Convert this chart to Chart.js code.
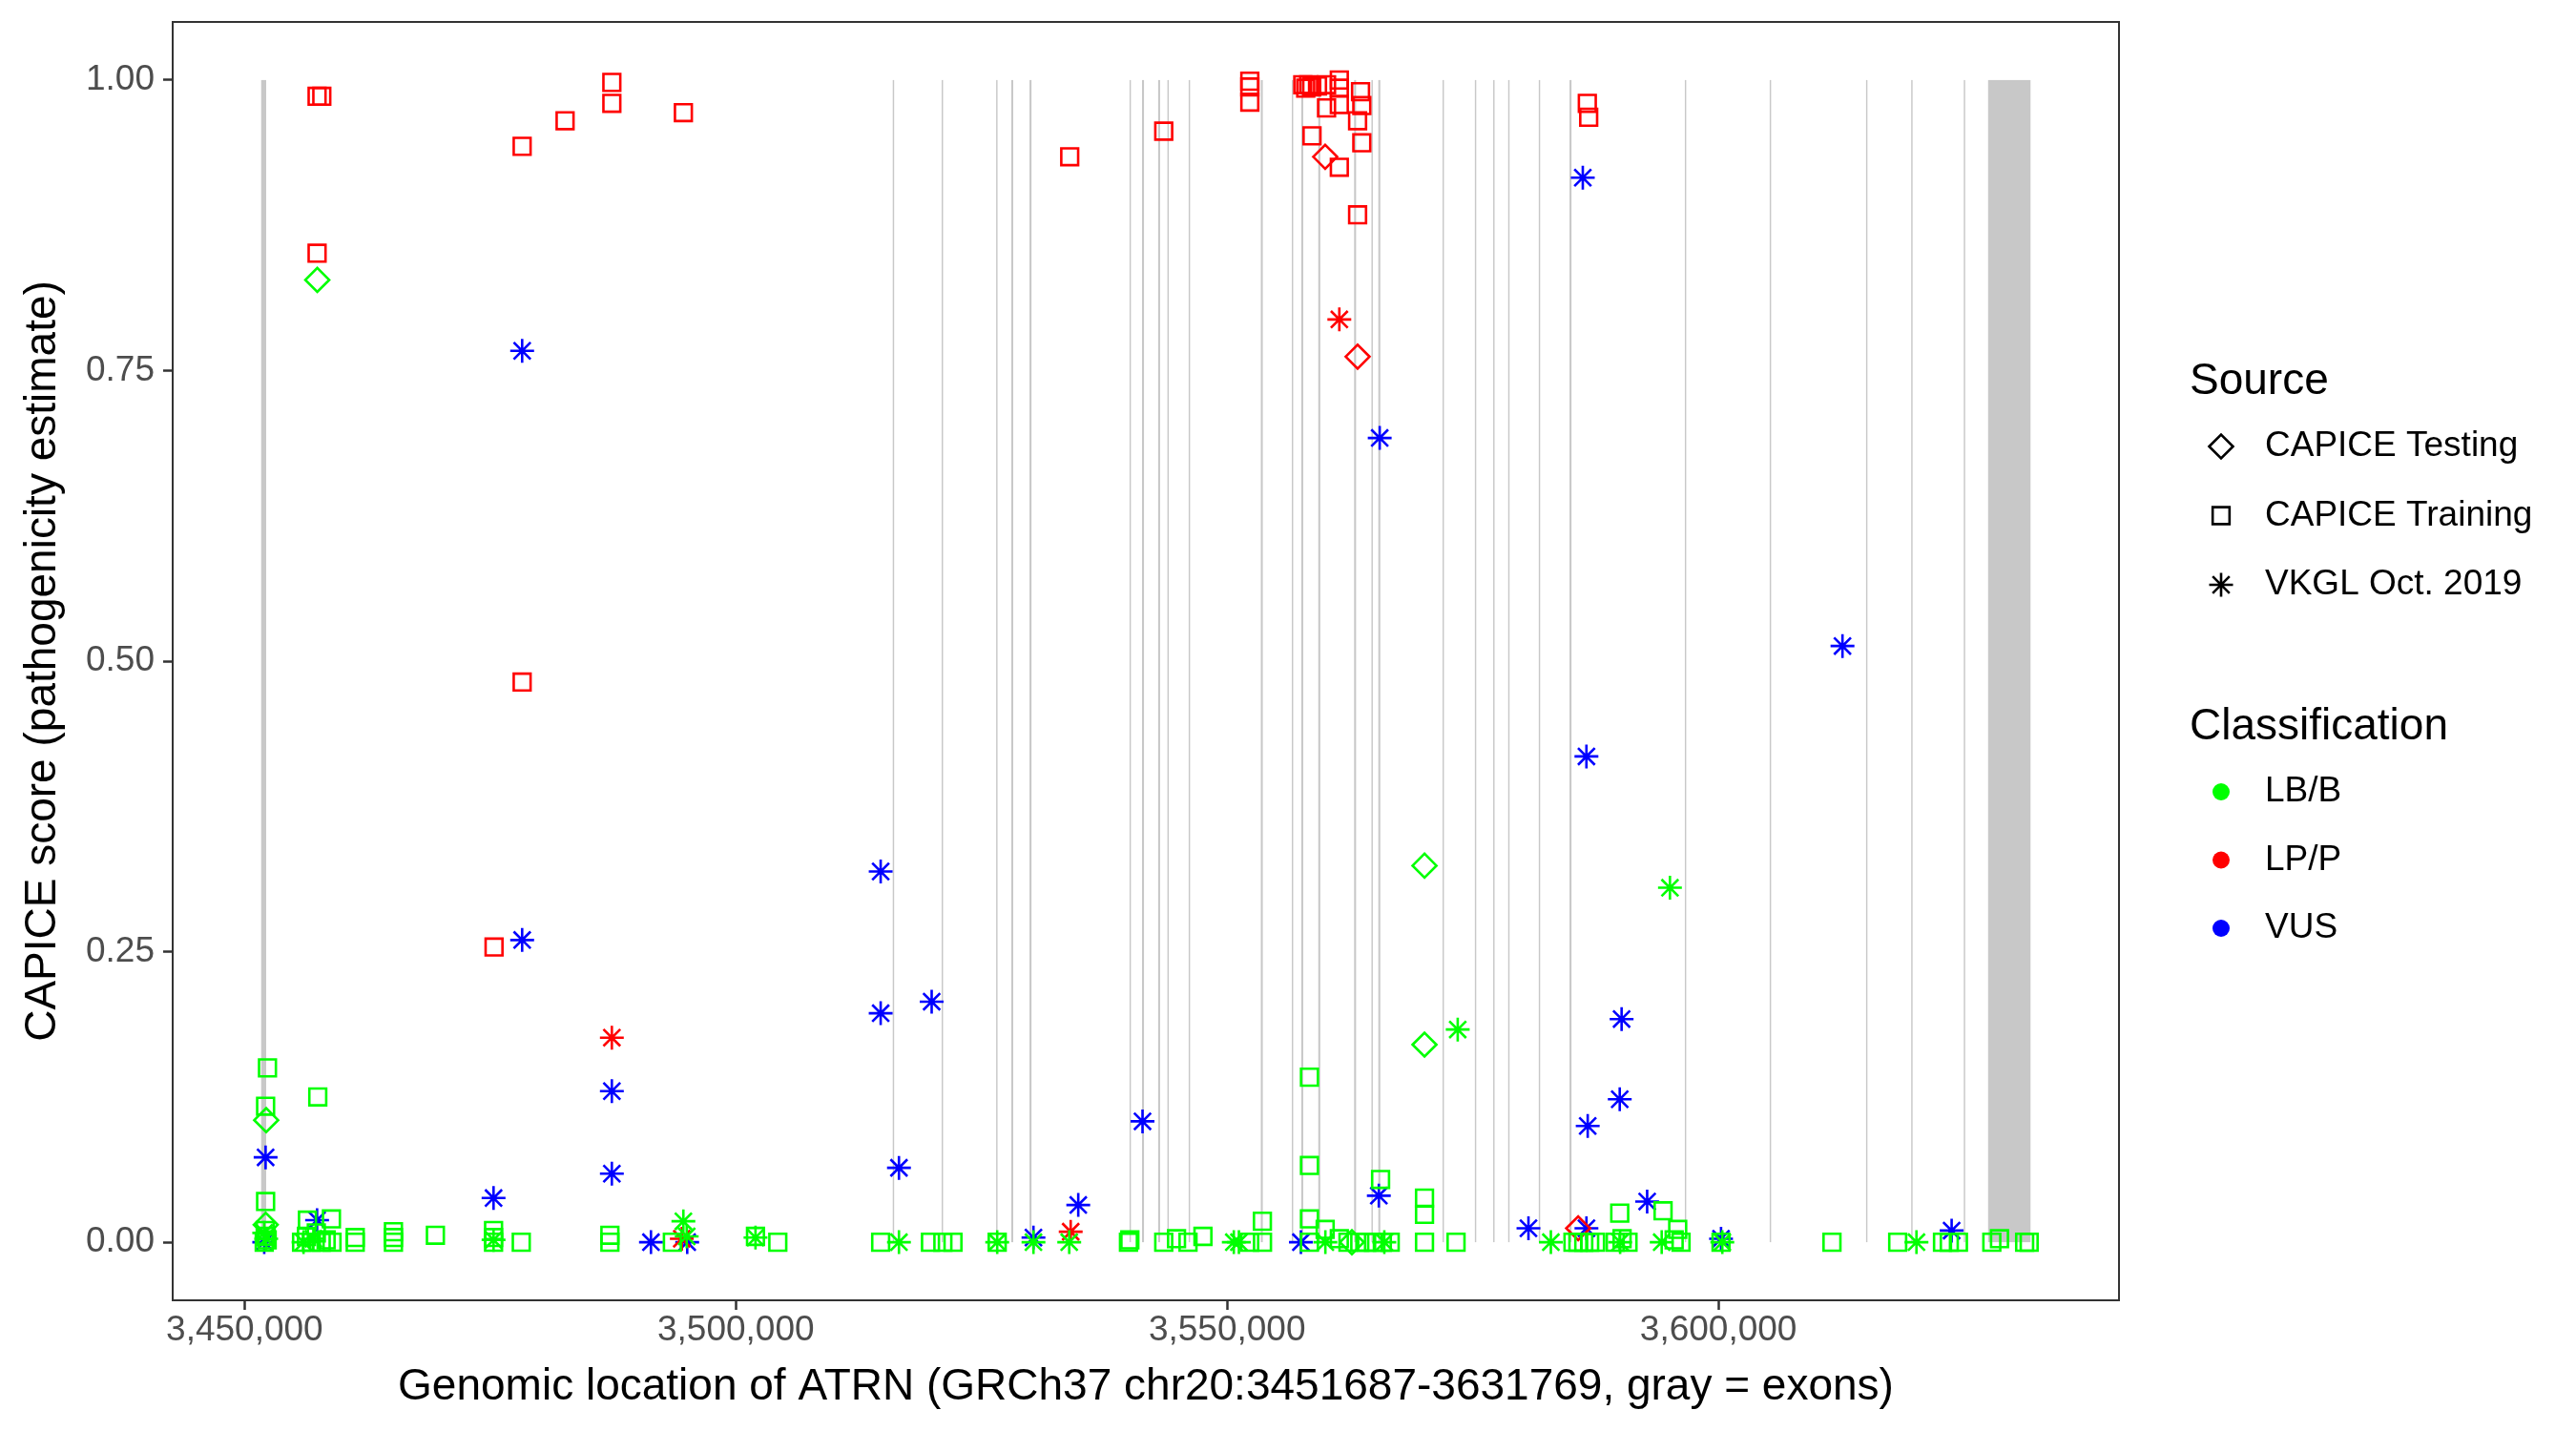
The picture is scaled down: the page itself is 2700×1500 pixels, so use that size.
<!DOCTYPE html>
<html>
<head>
<meta charset="utf-8">
<title>ATRN CAPICE scores</title>
<script src="https://cdn.jsdelivr.net/npm/chart.js@4.4.1/dist/chart.umd.min.js"></script>
<style>
  body { margin: 0; background: #fff; }
  canvas { display: block; }
</style>
</head>
<body>
<canvas id="myChart" width="2700" height="1500"></canvas>
<script>
const FONT = '"Liberation Sans", Arial, Helvetica, sans-serif';
const GREEN = '#00FF00';
const RED = '#FF0000';
const BLUE = '#0000FF';

// axis ticks
const xTicks = [3450000, 3500000, 3550000, 3600000];
const yTicks = [0, 0.25, 0.5, 0.75, 1];

// legend texts
const sourceNames = ['CAPICE Testing', 'CAPICE Training', 'VKGL Oct. 2019'];
const classNames = ['LB/B', 'LP/P', 'VUS'];

// ATRN exons (start / end)
const exonStarts = [3451687, 3515970, 3520950, 3526495, 3528030, 3529890, 3540070, 3541340, 3542980, 3543925,
  3546090, 3553430, 3556585, 3557545, 3559280, 3562925, 3564690, 3565390, 3571925, 3575215,
  3577080, 3578605, 3581720, 3584850, 3596585, 3605225, 3615030, 3619625, 3624975, 3627450];
const exonEnds = [3452200, 3516110, 3521090, 3526635, 3528230, 3530090, 3540210, 3541540, 3543180, 3544065,
  3546230, 3553630, 3556725, 3557745, 3559480, 3563125, 3564830, 3565590, 3572065, 3575355,
  3577220, 3578745, 3581860, 3585050, 3596725, 3605365, 3615170, 3619765, 3625115, 3631769];

// variants: [position, CAPICE score]
const testingLB = [[3452200, 0.105], [3452150, 0.015], [3457400, 0.828], [3562700, 0.0], [3570090, 0.324], [3570090, 0.170]];
const testingLP = [[3559980, 0.934], [3563280, 0.762], [3585730, 0.012]];

const trainingLB = [
  [3452330, 0.150], [3457450, 0.125], [3452140, 0.117], [3452140, 0.035], [3458840, 0.020],
  [3452000, 0.000], [3452200, 0.005], [3452100, 0.010], [3452300, 0.002],
  [3455800, 0.000], [3456300, 0.005], [3456400, 0.019], [3456800, 0.000], [3457300, 0.008], [3457800, 0.000], [3458300, 0.002], [3458900, 0.000],
  [3461260, 0.000], [3461260, 0.004],
  [3465150, 0.000], [3465150, 0.004], [3465150, 0.009],
  [3469420, 0.006],
  [3475340, 0.000], [3475340, 0.004], [3475340, 0.010],
  [3478160, 0.000],
  [3487180, 0.000], [3487180, 0.006],
  [3493540, 0.000],
  [3502000, 0.005], [3504270, 0.000],
  [3514740, 0.000], [3519810, 0.000], [3521070, 0.000], [3522100, 0.000], [3526600, 0.000],
  [3539960, 0.000], [3540100, 0.002], [3543550, 0.000], [3544850, 0.003], [3546020, 0.000], [3547540, 0.005],
  [3552300, 0.000], [3553590, 0.018], [3553600, 0.000],
  [3558380, 0.142], [3558380, 0.066], [3558380, 0.020], [3558380, 0.000],
  [3559980, 0.011], [3561420, 0.003], [3562300, 0.000], [3563500, 0.000], [3564200, 0.000], [3564900, 0.000],
  [3565620, 0.054], [3565800, 0.000], [3566600, 0.000],
  [3570090, 0.038], [3570090, 0.024], [3570090, 0.000], [3573300, 0.000],
  [3585200, 0.000], [3585700, 0.000], [3586300, 0.000], [3586900, 0.000], [3587500, 0.000],
  [3589500, 0.000], [3589960, 0.025], [3590200, 0.003], [3590800, 0.000],
  [3594370, 0.027], [3595860, 0.011], [3595500, 0.002], [3596200, 0.000],
  [3600270, 0.000], [3611560, 0.000], [3618250, 0.000],
  [3622810, 0.000], [3623500, 0.000], [3624430, 0.000],
  [3627830, 0.000], [3628610, 0.003], [3631170, 0.000], [3631630, 0.000]
];
const trainingLP = [
  [3457380, 0.986], [3457860, 0.986], [3457380, 0.851],
  [3478250, 0.943], [3482620, 0.965], [3487380, 0.998], [3487380, 0.980], [3494660, 0.972],
  [3478250, 0.482], [3475390, 0.254],
  [3533980, 0.934], [3543550, 0.956],
  [3552310, 0.999], [3552310, 0.994], [3552310, 0.981],
  [3557700, 0.996], [3558000, 0.993], [3558300, 0.996], [3558610, 0.994], [3559200, 0.995], [3560120, 0.996], [3560120, 0.976],
  [3561420, 1.000], [3561420, 0.993], [3561420, 0.979],
  [3563580, 0.990], [3563710, 0.978], [3563280, 0.965], [3558640, 0.952], [3563710, 0.946], [3561420, 0.925], [3563280, 0.884],
  [3586660, 0.980], [3586800, 0.968]
];

const vkglLB = [
  [3452200, 0.003], [3452000, 0.008], [3456000, 0.000], [3457000, 0.003], [3475340, 0.002],
  [3494660, 0.018], [3495000, 0.005], [3502000, 0.004],
  [3516600, 0.000], [3526600, 0.000], [3530290, 0.000], [3533930, 0.000],
  [3550680, 0.000], [3551200, 0.000], [3560000, 0.000], [3566000, 0.000],
  [3573470, 0.183], [3582950, 0.000], [3590000, 0.000], [3594230, 0.000], [3595070, 0.305],
  [3600400, 0.000], [3620160, 0.000]
];
const vkglLP = [[3487380, 0.176], [3561420, 0.794], [3534080, 0.009], [3494500, 0.003]];
const vkglVUS = [
  [3452140, 0.073], [3452000, 0.000], [3457380, 0.019], [3475340, 0.038],
  [3478250, 0.767], [3478250, 0.260], [3487380, 0.130], [3487380, 0.059],
  [3491360, 0.000], [3495050, 0.000],
  [3514740, 0.319], [3514740, 0.197], [3519930, 0.207], [3516600, 0.064],
  [3530290, 0.004], [3534850, 0.032], [3541390, 0.104], [3557510, 0.000],
  [3565530, 0.692], [3565440, 0.040],
  [3580670, 0.012], [3586200, 0.916], [3586570, 0.418], [3586700, 0.100], [3586570, 0.012],
  [3589960, 0.123], [3590150, 0.192], [3592750, 0.035],
  [3600270, 0.003], [3612630, 0.513], [3623740, 0.010]
];

function makeSet(label, arr, color, style) {
  return {
    label: label,
    data: arr.map(p => ({ x: p[0], y: p[1] })),
    pointStyle: style,
    pointRadius: 12.5,
    pointHoverRadius: 12.5,
    pointBorderWidth: 2.6,
    pointHoverBorderWidth: 2.6,
    borderColor: color,
    backgroundColor: 'rgba(0,0,0,0)',
    showLine: false
  };
}

// gray exon bars behind the points + panel border
const exonPlugin = {
  id: 'exons',
  beforeDatasetsDraw(chart) {
    const ctx = chart.ctx;
    const xs = chart.scales.x;
    const ys = chart.scales.y;
    const top = ys.getPixelForValue(1);
    const bottom = ys.getPixelForValue(0);
    ctx.save();
    ctx.fillStyle = '#C8C8C8';
    for (let i = 0; i < exonStarts.length; i++) {
      const x1 = xs.getPixelForValue(exonStarts[i]);
      const x2 = xs.getPixelForValue(exonEnds[i]);
      ctx.fillRect(x1, top, Math.max(x2 - x1, 1.4), bottom - top);
    }
    ctx.restore();
  },
  afterDatasetsDraw(chart) {
    const a = chart.chartArea;
    const ctx = chart.ctx;
    ctx.save();
    ctx.strokeStyle = '#333333';
    ctx.lineWidth = 2;
    ctx.strokeRect(a.left, a.top, a.right - a.left, a.bottom - a.top);
    ctx.restore();
  }
};

// key shapes for the legend
function drawKey(ctx, style, x, y) {
  const r = 12.5;
  ctx.beginPath();
  if (style === 'rectRot') {
    ctx.moveTo(x - r, y); ctx.lineTo(x, y - r); ctx.lineTo(x + r, y); ctx.lineTo(x, y + r); ctx.closePath();
  } else if (style === 'rect') {
    const s = r * Math.SQRT1_2;
    ctx.rect(x - s, y - s, 2 * s, 2 * s);
  } else {
    const d = r * Math.SQRT1_2;
    ctx.moveTo(x - r, y); ctx.lineTo(x + r, y);
    ctx.moveTo(x, y - r); ctx.lineTo(x, y + r);
    ctx.moveTo(x - d, y - d); ctx.lineTo(x + d, y + d);
    ctx.moveTo(x - d, y + d); ctx.lineTo(x + d, y - d);
  }
  ctx.stroke();
}

const legendPlugin = {
  id: 'sideLegend',
  afterDraw(chart) {
    const ctx = chart.ctx;
    const left = chart.chartArea.right + 74;
    ctx.save();
    ctx.textBaseline = 'middle';
    ctx.textAlign = 'left';
    ctx.fillStyle = '#000';
    ctx.font = '46px ' + FONT;
    ctx.fillText('Source', left, 400);
    ctx.fillText('Classification', left, 762);
    ctx.font = '37px ' + FONT;
    const shapes = ['rectRot', 'rect', 'star'];
    ctx.strokeStyle = '#000';
    ctx.lineWidth = 2.6;
    for (let i = 0; i < sourceNames.length; i++) {
      const y = 468 + i * 72.5;
      drawKey(ctx, shapes[i], left + 33, y);
      ctx.fillText(sourceNames[i], left + 79, y);
    }
    const colors = [GREEN, RED, BLUE];
    for (let i = 0; i < classNames.length; i++) {
      const y = 830 + i * 71.5;
      ctx.fillStyle = colors[i];
      ctx.beginPath();
      ctx.arc(left + 33, y, 9, 0, Math.PI * 2);
      ctx.fill();
      ctx.fillStyle = '#000';
      ctx.fillText(classNames[i], left + 79, y);
    }
    ctx.restore();
  }
};

const ctx = document.getElementById('myChart').getContext('2d');
const myChart = new Chart(ctx, {
  type: 'scatter',
  data: {
    datasets: [
      makeSet('CAPICE Training LB/B', trainingLB, GREEN, 'rect'),
      makeSet('CAPICE Testing LB/B', testingLB, GREEN, 'rectRot'),
      makeSet('VKGL LB/B', vkglLB, GREEN, 'star'),
      makeSet('CAPICE Training LP/P', trainingLP, RED, 'rect'),
      makeSet('CAPICE Testing LP/P', testingLP, RED, 'rectRot'),
      makeSet('VKGL LP/P', vkglLP, RED, 'star'),
      makeSet('VKGL VUS', vkglVUS, BLUE, 'star')
    ]
  },
  options: {
    responsive: false,
    devicePixelRatio: 1,
    animation: false,
    layout: { padding: { left: 0, right: 479, top: 23, bottom: 0 } },
    plugins: {
      legend: { display: false },
      tooltip: { enabled: false }
    },
    scales: {
      x: {
        type: 'linear',
        min: 3442683,
        max: 3640773,
        afterBuildTicks(axis) { axis.ticks = xTicks.map(v => ({ value: v })); },
        afterFit(axis) {
          axis.height = 137;
          axis.paddingLeft = 0;
          axis.paddingRight = 0;
        },
        ticks: {
          autoSkip: false,
          maxRotation: 0,
          color: '#4D4D4D',
          padding: 0,
          font: { size: 37, family: FONT },
          callback: v => v.toLocaleString('en-US')
        },
        grid: { drawOnChartArea: false, tickLength: 10, tickColor: '#333333', tickWidth: 2.5 },
        border: { display: false },
        title: {
          display: true,
          text: 'Genomic location of ATRN (GRCh37 chr20:3451687-3631769, gray = exons)',
          color: '#000',
          font: { size: 46, family: FONT },
          padding: { top: 0, bottom: 18 }
        }
      },
      y: {
        min: -0.05,
        max: 1.05,
        afterBuildTicks(axis) { axis.ticks = yTicks.map(v => ({ value: v })); },
        afterFit(axis) {
          axis.width = 181;
          axis.paddingTop = 0;
          axis.paddingBottom = 0;
        },
        ticks: {
          color: '#4D4D4D',
          padding: 9,
          font: { size: 37, family: FONT },
          callback: v => v.toFixed(2)
        },
        grid: { drawOnChartArea: false, tickLength: 10, tickColor: '#333333', tickWidth: 2.5 },
        border: { display: false },
        title: {
          display: true,
          text: 'CAPICE score (pathogenicity estimate)',
          color: '#000',
          font: { size: 46, family: FONT },
          padding: { top: 18, bottom: 0 }
        }
      }
    }
  },
  plugins: [exonPlugin, legendPlugin]
});
</script>
</body>
</html>
